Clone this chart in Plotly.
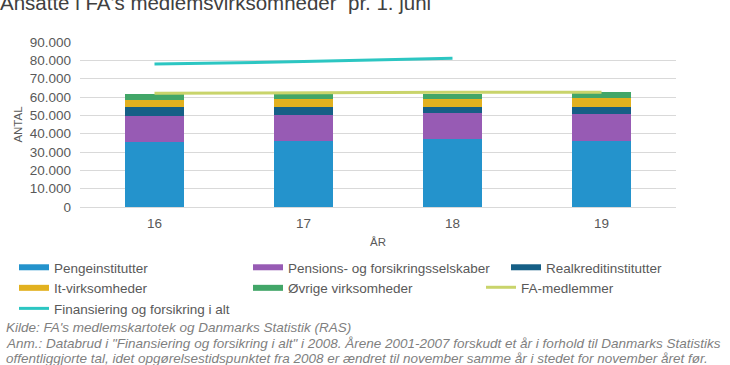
import plotly.graph_objects as go

years = ["16", "17", "18", "19"]
penge = [35500, 36200, 36900, 36200]
pension = [14300, 14200, 14400, 14700]
realkredit = [4600, 4200, 3300, 3700]
it_virk = [4100, 4500, 4500, 5000]
oevrige = [3300, 2400, 2700, 3100]
fa_medlemmer = [62000, 62400, 62600, 62600]
finansiering = [78000, 79300, 81100, None]
y_ticks = [0, 10000, 20000, 30000, 40000, 50000, 60000, 70000, 80000, 90000]

bar_series = [
    ("Pengeinstitutter", penge, "#2493cc", "legend"),
    ("Pensions- og forsikringsselskaber", pension, "#975bb4", "legend2"),
    ("Realkreditinstitutter", realkredit, "#165f86", "legend3"),
    ("It-virksomheder", it_virk, "#e2b11f", "legend"),
    ("Øvrige virksomheder", oevrige, "#42a668", "legend2"),
]

FONT = "Liberation Sans, Arial, sans-serif"
GRAY = "#595959"

W, H = 730, 365
L, R, T, B = 80, 54, 42, 158
PW, PH = W - L - R, H - T - B


def px_x(p):
    return (p - L) / PW


def px_y(p):
    return (H - B - p) / PH


fig = go.Figure()
for name, vals, color, lg in bar_series:
    fig.add_trace(go.Bar(x=years, y=vals, name=name, marker=dict(color=color, line=dict(width=0)),
                         showlegend=False, width=0.4))
# legend entries (flat swatches)
for name, vals, color, lg in bar_series:
    fig.add_trace(go.Scatter(x=[None], y=[None], mode="lines", name=name,
                             line=dict(color=color, width=6), legend=lg, hoverinfo="skip"))

fig.add_trace(go.Scatter(x=years, y=fa_medlemmer, mode="lines", name="FA-medlemmer",
                         line=dict(color="#c9d46b", width=3), legend="legend4"))
fig.add_trace(go.Scatter(x=years, y=finansiering, mode="lines", name="Finansiering og forsikring i alt",
                         line=dict(color="#2cc6c2", width=3), legend="legend"))

leg_common = dict(orientation="v", bgcolor="rgba(0,0,0,0)", borderwidth=0, traceorder="normal",
                  font=dict(family=FONT, size=13.5, color=GRAY), xanchor="left", yanchor="top",
                  tracegroupgap=0)
legtop = px_y(252)

fig.update_layout(
    width=W, height=H,
    margin=dict(l=L, r=R, t=T, b=B, autoexpand=False),
    paper_bgcolor="white", plot_bgcolor="white",
    barmode="stack",
    separators=",.",
    font=dict(family=FONT, color=GRAY),
    title=dict(text="Ansatte i FA's medlemsvirksomheder  pr. 1. juni", font=dict(family=FONT, size=20.5, color="#404040"),
               xref="container", yref="container", x=0.0, xanchor="left", y=0.9934, yanchor="middle"),
    xaxis=dict(type="category", categoryarray=years, showgrid=False, showline=False, ticks="",
               automargin=False,
               tickfont=dict(size=13.5, color=GRAY), ticklabelstandoff=6,
               title=dict(text="ÅR", font=dict(size=11.5, color=GRAY), standoff=8)),
    yaxis=dict(range=[0, 90000], tickvals=y_ticks, tickformat=",.0f", showgrid=True, automargin=False,
               gridcolor="#d9d9d9", gridwidth=1, zeroline=True, zerolinecolor="#d9d9d9", zerolinewidth=1,
               showline=False, ticks="", tickfont=dict(size=13.5, color=GRAY), ticklabelstandoff=8,
               title=dict(text="ANTAL", font=dict(size=11.5, color=GRAY), standoff=4)),
    legend=dict(x=px_x(14), y=legtop, **leg_common),
    legend2=dict(x=px_x(248), y=legtop, **leg_common),
    legend3=dict(x=px_x(506), y=legtop, **leg_common),
    legend4=dict(x=px_x(481), y=px_y(272), **leg_common),
    showlegend=True,
)

notes = [
    ("Kilde: FA's medlemskartotek og Danmarks Statistik (RAS)", 327),
    ("Anm.: Databrud i \"Finansiering og forsikring i alt\" i 2008. Årene 2001-2007 forskudt et år i forhold til Danmarks Statistiks", 343),
    ("offentliggjorte tal, idet opgørelsestidspunktet fra 2008 er ændret til november samme år i stedet for november året før.", 358),
]
for txt, py in notes:
    fig.add_annotation(text="<i>" + txt + "</i>", xref="paper", yref="paper", x=px_x(4), y=px_y(py),
                       xanchor="left", yanchor="middle", showarrow=False,
                       font=dict(family=FONT, size=13.5, color="#7f7f7f"))

fig.write_html("out.html", config={"displayModeBar": False},
               post_script="document.body.style.margin='0';document.body.style.overflow='hidden';")
